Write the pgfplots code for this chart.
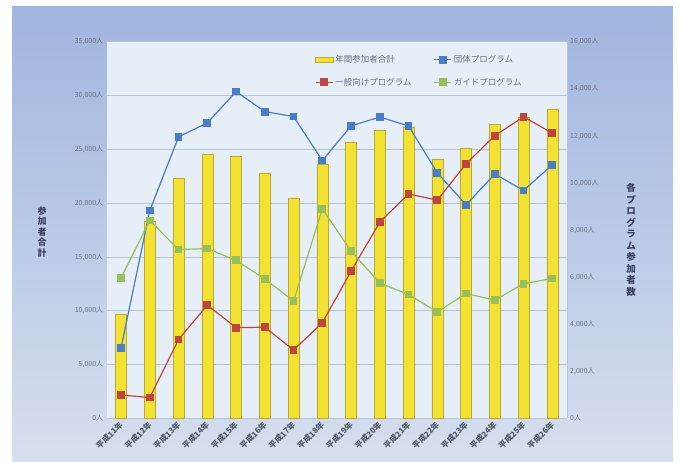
\documentclass[border=0pt]{standalone}
\usepackage{pgfplots}
\pgfplotsset{compat=1.18}
\usepackage{fontspec}
\setmainfont{Noto Sans CJK JP}
\definecolor{bgtop}{HTML}{A0B5DF}
\definecolor{bgbot}{HTML}{D6DFEE}
\definecolor{plotbg}{HTML}{E6EEF7}
\definecolor{baryellow}{HTML}{F4E232}
\definecolor{baredge}{HTML}{B9AA3A}
\definecolor{sblue}{HTML}{4A7CC8}
\definecolor{sred}{HTML}{C0453F}
\definecolor{sgreen}{HTML}{97BF5A}
\definecolor{gridc}{HTML}{B7C4D6}
\definecolor{txt}{HTML}{6A7080}
\definecolor{xtxt}{HTML}{505868}
\definecolor{lab}{HTML}{3A4060}
\pgfplotsset{/pgf/number format/assume math mode=true, /pgf/number format/1000 sep={,}}
\begin{document}
\begin{tikzpicture}
\fill[white] (0pt,0pt) rectangle (682pt,461pt);
\shade[top color=bgtop, bottom color=bgbot] (12pt,0pt) rectangle (673pt,454pt);
\begin{axis}[
  at={(106.7pt,42.7pt)}, anchor=south west, scale only axis,
  width=460pt, height=376.6pt,
  xmin=-0.5, xmax=15.5, ymin=0, ymax=35000,
  axis background/.style={fill=plotbg},
  axis x line*=bottom, axis y line*=left,
  x axis line style={draw=gridc},
  y axis line style={draw=none},
  ytick={0,5000,...,35000}, ymajorgrids, grid style={gridc, line width=0.5pt},
  scaled y ticks=false,
  yticklabel={\pgfmathprintnumber{\tick}人},
  xtick={0,...,15},
  xticklabels={平成11年,平成12年,平成13年,平成14年,平成15年,平成16年,平成17年,平成18年,平成19年,平成20年,平成21年,平成22年,平成23年,平成24年,平成25年,平成26年},
  major tick length=0pt,
  ticklabel style={text=txt, font=\fontsize{7}{8}\selectfont},
  x tick label style={rotate=45, anchor=east, yshift=-4pt, text=xtxt, font=\fontsize{8}{9}\selectfont\bfseries},
  ybar, bar width=11pt,
]
\addplot[fill=baryellow, draw=baredge, line width=0.4pt] coordinates {
(0,9700) (1,18300) (2,22350) (3,24500) (4,24350) (5,22800) (6,20500) (7,23600)
(8,25650) (9,26800) (10,27100) (11,24100) (12,25100) (13,27350) (14,28000) (15,28750)};
\end{axis}
\begin{axis}[
  at={(106.7pt,42.7pt)}, anchor=south west, scale only axis,
  width=460pt, height=376.6pt,
  xmin=-0.5, xmax=15.5, ymin=0, ymax=16000,
  axis x line=none, axis y line*=right,
  y axis line style={draw=gridc},
  ytick={0,2000,...,16000},
  scaled y ticks=false,
  yticklabel={\pgfmathprintnumber{\tick}人},
  major tick length=0pt,
  ticklabel style={text=txt, font=\fontsize{7}{8}\selectfont},
  legend style={at={(0.446,0.975)}, anchor=north west, draw=none, fill=none,
    font=\fontsize{8.5}{10}\selectfont, text=txt, row sep=10pt},
  legend columns=2,
  legend cell align=left,
  /tikz/every even column/.append style={column sep=20pt},
]
\addlegendimage{area legend, fill=baryellow, draw=baredge}
\addlegendentry{年間参加者合計}
\addplot[sblue, line width=1.2pt, mark=square*, mark size=3.3pt, mark options={fill=sblue, draw=sblue}] coordinates {
(0,3000) (1,8830) (2,11960) (3,12550) (4,13880) (5,13030) (6,12820) (7,10950)
(8,12420) (9,12800) (10,12420) (11,10430) (12,9070) (13,10380) (14,9680) (15,10770)};
\addlegendentry{団体プログラム}
\addplot[sred, line width=1.2pt, mark=square*, mark size=3.3pt, mark options={fill=sred, draw=sred}] coordinates {
(0,990) (1,880) (2,3350) (3,4810) (4,3850) (5,3870) (6,2900) (7,4060)
(8,6250) (9,8340) (10,9530) (11,9270) (12,10810) (13,12010) (14,12810) (15,12110)};
\addlegendentry{一般向けプログラム}
\addplot[sgreen, line width=1.2pt, mark=square*, mark size=3.3pt, mark options={fill=sgreen, draw=sgreen}] coordinates {
(0,5970) (1,8400) (2,7170) (3,7210) (4,6710) (5,5920) (6,4980) (7,8900)
(8,7100) (9,5740) (10,5260) (11,4520) (12,5300) (13,5020) (14,5720) (15,5940)};
\addlegendentry{ガイドプログラム}
\end{axis}
\node[align=center, text=lab, font=\fontsize{9}{10.5}\selectfont\bfseries, inner sep=0] at (42pt,229pt) {参\\加\\者\\合\\計};
\node[align=center, text=lab, font=\fontsize{9.5}{11.5}\selectfont\bfseries, inner sep=0] at (631pt,221pt) {各\\プ\\ロ\\グ\\ラ\\ム\\参\\加\\者\\数};
\end{tikzpicture}
\end{document}
